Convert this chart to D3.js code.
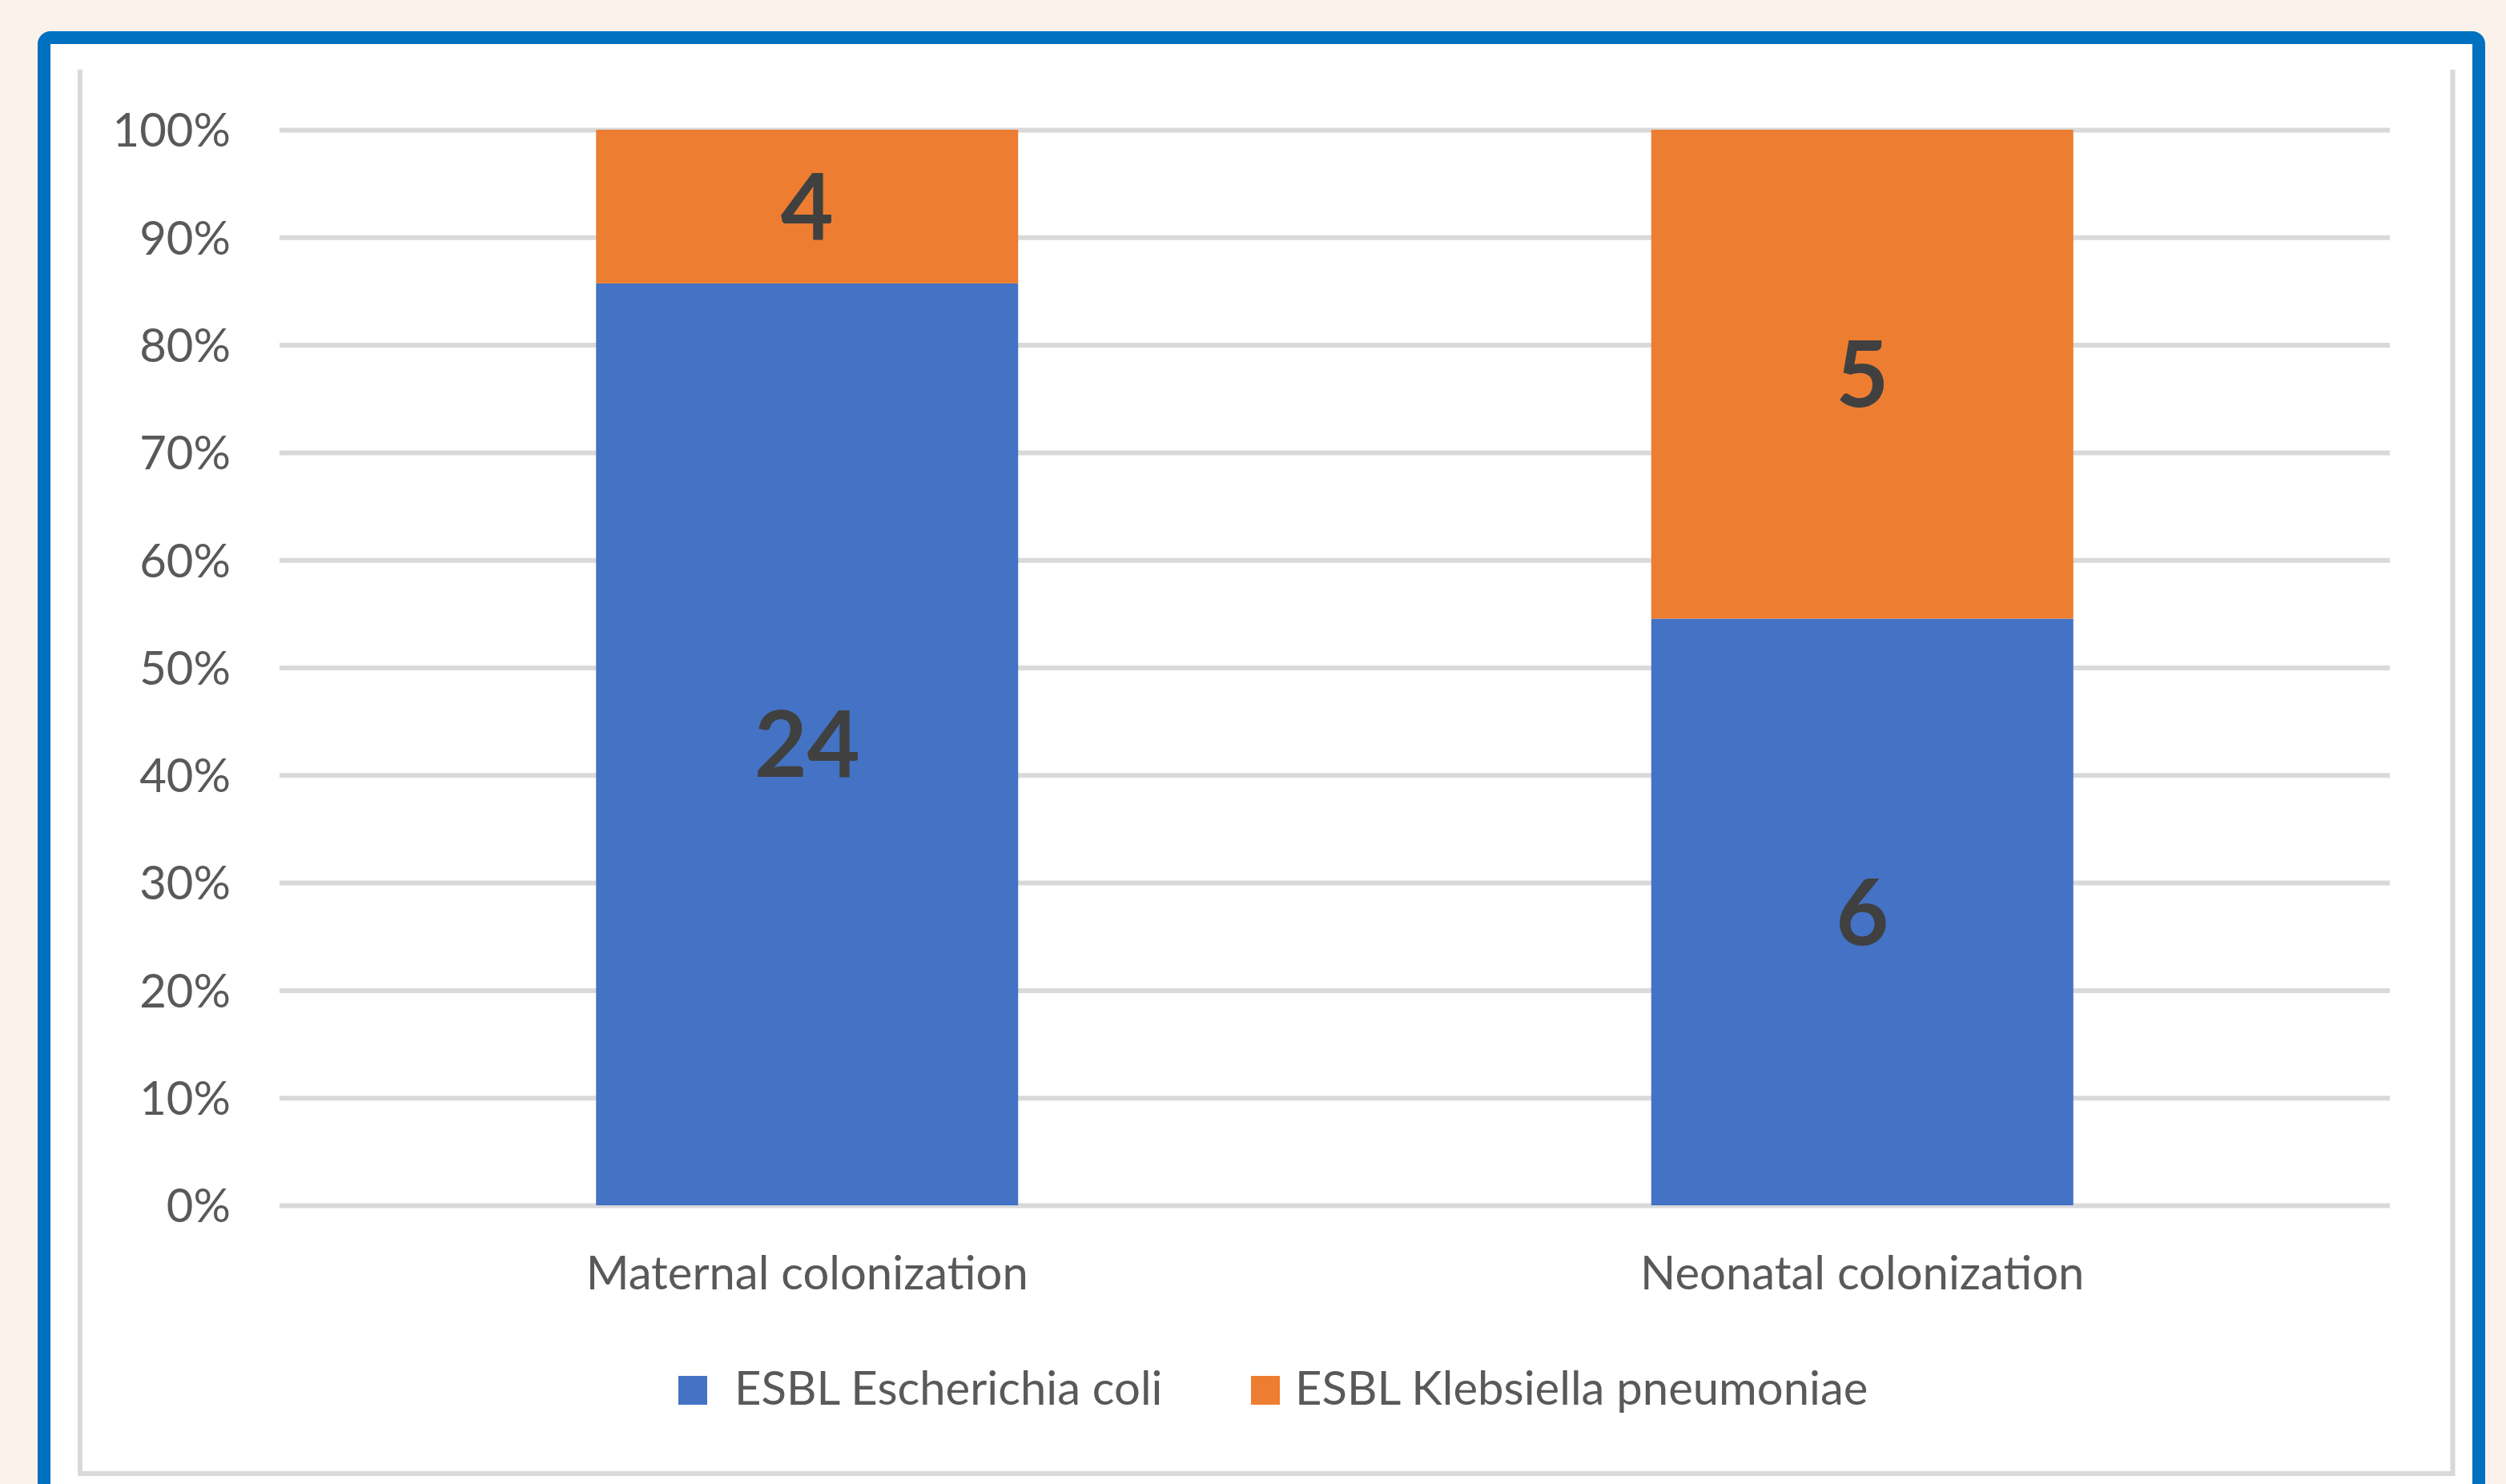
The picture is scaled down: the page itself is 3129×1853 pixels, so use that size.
<!DOCTYPE html>
<html>
<head>
<meta charset="utf-8">
<script src="https://cdn.jsdelivr.net/npm/d3@7"></script>
<style>
  html, body { margin: 0; padding: 0; background: #FBF2EC; }
  svg { display: block; }
  text { font-family: Lato, "Open Sans", sans-serif; }
</style>
</head>
<body>
<svg id="chart" width="3129" height="1853"></svg>
<script>
// chart data
const categories = ['Maternal colonization', 'Neonatal colonization'];
const seriesNames = ['ESBL Escherichia coli', 'ESBL Klebsiella pneumoniae'];
const ecoliCounts = [24, 6];
const klebsiellaCounts = [4, 5];
const yTicks = [0, 0.1, 0.2, 0.3, 0.4, 0.5, 0.6, 0.7, 0.8, 0.9, 1];
const seriesColors = ['#4472C4', '#ED7D31'];

const width = 3129, height = 1853;
const plot = { left: 349, right: 2984, top: 162, bottom: 1505 };

const svg = d3.select('#chart');

// page frame
svg.append('rect')
  .attr('x', 55).attr('y', 47)
  .attr('width', 3040).attr('height', 1900)
  .attr('rx', 8)
  .attr('fill', '#fff')
  .attr('stroke', '#0070C0')
  .attr('stroke-width', 16);

// chart border (top edge cropped off)
svg.append('path')
  .attr('d', 'M100,87V1840H3062.5V87')
  .attr('fill', 'none')
  .attr('stroke', '#D9D9D9')
  .attr('stroke-width', 6);

const rows = categories.map((c, i) => ({
  category: c,
  [seriesNames[0]]: ecoliCounts[i],
  [seriesNames[1]]: klebsiellaCounts[i]
}));

const stacked = d3.stack()
  .keys(seriesNames)
  .offset(d3.stackOffsetExpand)(rows);

const x = d3.scaleBand()
  .domain(categories)
  .range([plot.left, plot.right])
  .paddingInner(0.6)
  .paddingOuter(0.3);

const y = d3.scaleLinear()
  .domain([0, 1])
  .range([plot.bottom, plot.top]);

// gridlines
const grid = svg.append('g')
  .attr('transform', `translate(${plot.left},0)`)
  .call(d3.axisLeft(y).tickValues(yTicks).tickSize(-(plot.right - plot.left)).tickFormat(''));
grid.select('.domain').remove();
grid.selectAll('line').attr('stroke', '#D9D9D9').attr('stroke-width', 6);

// y labels
const yAxis = svg.append('g')
  .attr('transform', `translate(${plot.left},0)`)
  .call(d3.axisLeft(y).tickValues(yTicks).tickSize(0).tickPadding(61).tickFormat(d3.format('.0%')));
yAxis.select('.domain').remove();
yAxis.selectAll('text')
  .attr('font-size', 58)
  .attr('font-family', 'Lato, sans-serif')
  .attr('fill', '#595959')
  .attr('dy', '0.36em');

// bars
const layers = svg.append('g')
  .selectAll('g')
  .data(stacked)
  .join('g')
    .attr('fill', (d, i) => seriesColors[i]);

layers.selectAll('rect')
  .data(d => d)
  .join('rect')
    .attr('x', d => x(d.data.category))
    .attr('width', x.bandwidth())
    .attr('y', d => y(d[1]))
    .attr('height', d => y(d[0]) - y(d[1]));

// data labels (counts)
layers.selectAll('text')
  .data((d, i) => d.map(s => ({ s, key: d.key })))
  .join('text')
    .attr('x', d => x(d.s.data.category) + x.bandwidth() / 2)
    .attr('y', d => (y(d.s[0]) + y(d.s[1])) / 2)
    .attr('dy', '0.36em')
    .attr('text-anchor', 'middle')
    .attr('font-size', 114)
    .attr('font-weight', 'bold')
    .attr('fill', '#404040')
    .text(d => d.s.data[d.key]);

// category labels
svg.append('g')
  .selectAll('text')
  .data(categories)
  .join('text')
    .attr('x', d => x(d) + x.bandwidth() / 2)
    .attr('y', 1610)
    .attr('text-anchor', 'middle')
    .attr('font-size', 58)
    .attr('fill', '#595959')
    .text(d => d);

// legend
const legendX = [847, 1562];
const legendTextX = [917, 1617];
const legend = svg.append('g')
  .selectAll('g')
  .data(seriesNames)
  .join('g');

legend.append('rect')
  .attr('x', (d, i) => legendX[i])
  .attr('y', 1718)
  .attr('width', 36)
  .attr('height', 36)
  .attr('fill', (d, i) => seriesColors[i]);

legend.append('text')
  .attr('x', (d, i) => legendTextX[i])
  .attr('y', 1754)
  .attr('font-size', 58)
  .attr('fill', '#595959')
  .text(d => d);
</script>
</body>
</html>
